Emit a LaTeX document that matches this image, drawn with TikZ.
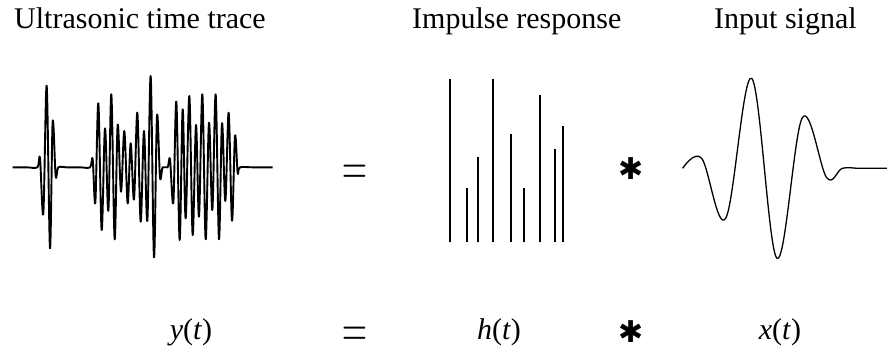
\documentclass[tikz,border=0pt]{standalone}
\usepackage{fontspec}
\setmainfont{Liberation Serif}
\newfontfamily\djv{DejaVu Sans}
\newcommand{\bigeq}{\scalebox{1.39}[2.3]{$=$}}
\begin{document}
\begin{tikzpicture}[x=1pt,y=-1pt,
  title/.style={inner sep=0pt, anchor=base west, font=\fontsize{30}{36}\selectfont},
  lbl/.style={inner sep=0pt, anchor=base, font=\fontsize{30}{36}\selectfont},
  eqsym/.style={inner sep=0pt, anchor=base, font=\fontsize{24.88}{26}\selectfont},
  convsym/.style={inner sep=0pt, font=\djv\fontsize{30}{30}\selectfont},
  trace/.style={line width=1.9pt, line join=round},
  wave/.style={line width=1.3pt, line join=round},
  spike/.style={line width=1.6pt}]
\useasboundingbox (0,0) rectangle (887,349);

% titles
\node[title] (t1) at (14,28) {Ultrasonic time trace};
\node[title] (t2) at (412,28) {Impulse response};
\node[title] (t3) at (714,28) {Input signal};

% ultrasonic time trace
\begin{scope}[shift={(0,70)}, scale=1/3]
\draw[trace] plot[smooth, tension=0.55] coordinates {
 (38,292) (80,292) (112,292) (120,265) (130,430) (140,47) (150,535) (158,155) (167,318) (175,292)
 (200,292) (240,292) (270,292) (278,268) (286,398) (295,100) (305,480) (315,175) (325,422)
 (334,73) (344,508) (353,165) (363,365) (373,183) (383,400) (392,220) (402,388) (412,128)
 (422,455) (432,183) (442,452) (452,18) (462,562) (471,138) (480,322) (488,292) (503,292)
 (510,268) (520,398) (529,95) (539,510) (548,118) (557,445) (568,78) (578,495) (588,165)
 (597,440) (607,73) (617,508) (627,158) (637,420) (647,73) (657,508) (666,160) (676,393)
 (686,128) (696,452) (705,198) (713,308) (720,292) (760,292) (818,292)};
\end{scope}

% impulse response
\foreach \xx/\tt in {450/79, 467/188, 478/157, 493/79, 511/134, 524/188, 540/95, 555/149, 563/126}
  \draw[spike] (\xx,242) -- (\xx,\tt);

% input signal
\begin{scope}[shift={(600,70)}, scale=1/3]
\draw[wave] plot[smooth, tension=0.6] coordinates {
 (248,295) (305,265) (377,445) (455,25) (531,565) (607,143) (680,323) (727,295) (780,295) (861,295)};
\end{scope}

% operators, top row
\node[eqsym] (eq1) at (354.5,185.8) {\bigeq};
\node[convsym] (cv1) at (631,169) {✱};

% bottom row
\node[lbl] (y) at (191,339) {\textit{y}(\textit{t})};
\node[eqsym] (eq2) at (354.5,347.5) {\smash{\bigeq}};
\node[lbl] (h) at (499,339) {\textit{h}(\textit{t})};
\node[convsym] (cv2) at (631,332) {✱};
\node[lbl] (x) at (780,339) {\textit{x}(\textit{t})};
\end{tikzpicture}
\end{document}
